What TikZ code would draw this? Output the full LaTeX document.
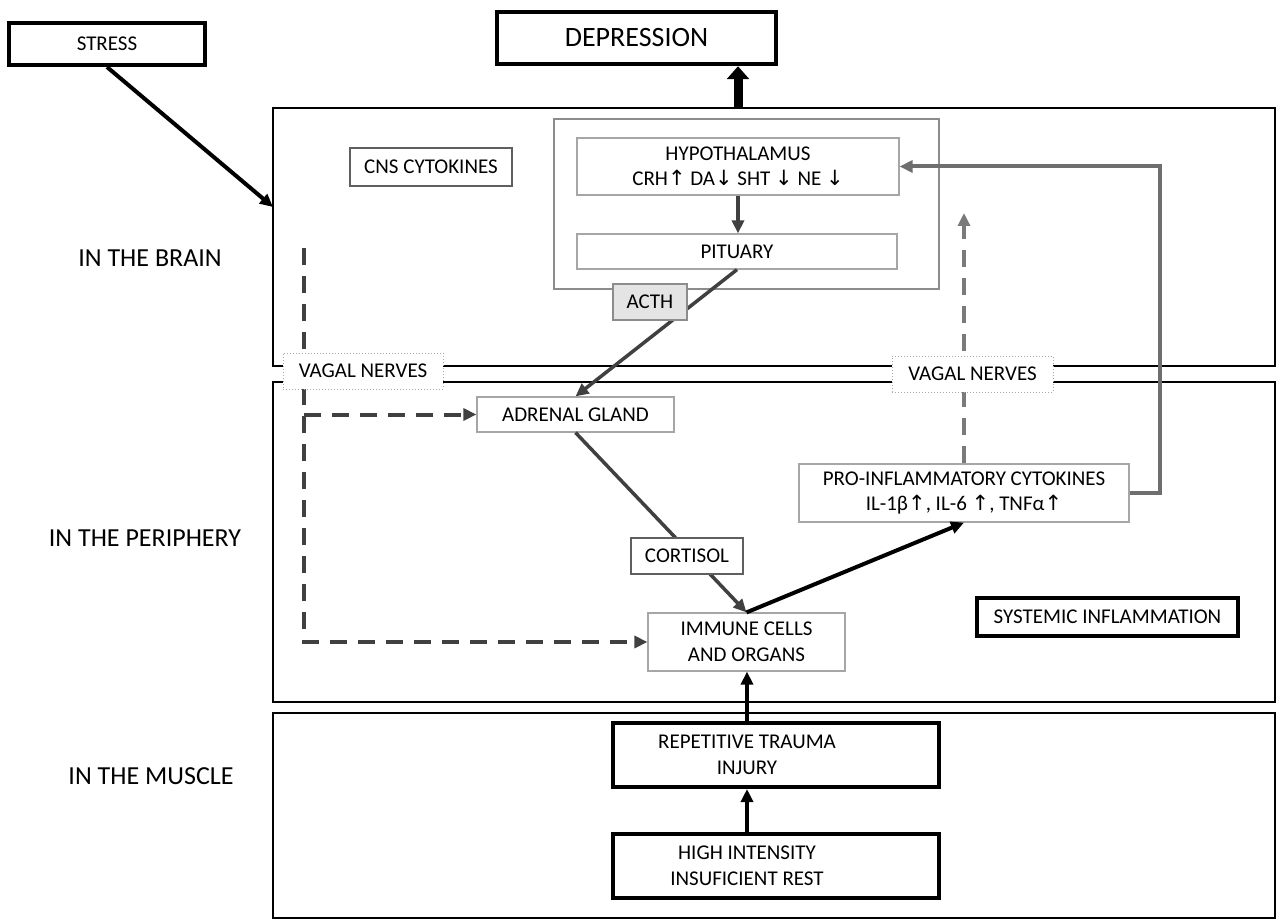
\documentclass[tikz,border=0pt]{standalone}
\usepackage{fontspec}
\setmainfont{Carlito}
\newfontfamily\arrowfont{DejaVu Sans}
\usetikzlibrary{arrows.meta}

\definecolor{darkline}{HTML}{404040}
\definecolor{midline}{HTML}{6E6E6E}
\definecolor{dashgrey}{HTML}{7A7A7A}
\definecolor{lightedge}{HTML}{A6A6A6}
\definecolor{darkedge}{HTML}{5F5F5F}
\definecolor{groupgrey}{HTML}{8C8C8C}
\definecolor{acthfill}{HTML}{E4E4E4}

\newcommand{\upar}{{\arrowfont ↑}}
\newcommand{\dnar}{{\arrowfont ↓}}

\tikzset{
  region/.style={draw, line width=2pt, minimum width=1002pt, inner sep=0pt},
  sidelabel/.style={font=\fontsize{26}{30}\selectfont},
  thinbox/.style={draw=lightedge, line width=1.2pt, fill=white, inner sep=0pt, align=center},
  darkbox/.style={draw=darkedge, line width=1.2pt, fill=white, inner sep=0pt, align=center},
  thickbox/.style={draw, line width=4pt, fill=white, inner sep=0pt, align=center},
  vagusbox/.style={draw=lightedge, dotted, line width=1pt, fill=white, inner sep=0pt,
    minimum width=160pt, minimum height=36pt},
  blackarrow/.style={-{Triangle[length=13pt,width=12pt]}, line width=3.5pt},
  greyarrow/.style={-{Triangle[length=13pt,width=12pt]}, line width=3.5pt, darkline},
  nervearrow/.style={-{Triangle[length=13pt,width=12pt]}, line width=4pt, dash pattern=on 17pt off 11pt}
}

\begin{document}
\begin{tikzpicture}[x=1pt, y=-1pt, font=\fontsize{21}{25.5}\selectfont]
\useasboundingbox (0,0) rectangle (1277,920);

\node[region, minimum height=258pt] (brain) at (774,237) {};
\node[region, minimum height=320pt] (periphery) at (774,542) {};
\node[region, minimum height=205pt] (muscle) at (774,815.5) {};

\node[sidelabel] (brainlbl) at (150,258) {IN THE BRAIN};
\node[sidelabel] (periphlbl) at (145,538) {IN THE PERIPHERY};
\node[sidelabel] (musclelbl) at (151,776) {IN THE MUSCLE};

\node[thickbox, minimum width=196pt, minimum height=42pt] (stress) at (107,44) {STRESS};
\node[thickbox, line width=4.5pt, minimum width=279pt, minimum height=52pt,
  font=\fontsize{28}{32}\selectfont] (depression) at (636.5,38) {DEPRESSION};

\node[darkbox, minimum width=162pt, minimum height=38pt] (cns) at (431,167) {CNS CYTOKINES};

\node[draw=groupgrey, line width=2.5pt, minimum width=385pt, minimum height=170pt] (hpa) at (746.5,204) {};
\node[thinbox, minimum width=322pt, minimum height=57pt] (hyp) at (738,166.5)
  {HYPOTHALAMUS\\CRH\upar{} DA\dnar{} SHT \dnar{} NE \dnar};
\node[thinbox, minimum width=320pt, minimum height=35pt] (pit) at (737,251.5) {PITUARY};

\node[thinbox, minimum width=197pt, minimum height=35pt] (adrenal) at (575.5,414.5) {ADRENAL GLAND};
\node[thinbox, minimum width=330pt, minimum height=58pt] (proinf) at (964,493)
  {PRO-INFLAMMATORY CYTOKINES\\IL-1β\upar, IL-6 \upar, TNFα\upar};
\node[thinbox, minimum width=197pt, minimum height=58pt] (immune) at (746.5,642) {IMMUNE CELLS\\AND ORGANS};
\node[thickbox, minimum width=261pt, minimum height=38pt] (systemic) at (1107.5,617) {SYSTEMIC INFLAMMATION};

\node[thickbox, minimum width=326pt, minimum height=64pt] (traumabox) at (776,755) {};
\node[align=center] (trauma) at (747,755) {REPETITIVE TRAUMA\\INJURY};
\node[thickbox, minimum width=326pt, minimum height=64pt] (highbox) at (776,866) {};
\node[align=center] (high) at (747,866) {HIGH INTENSITY\\INSUFICIENT REST};

\coordinate (stressin) at (273,207);
\coordinate (vagtop) at (304,248);
\coordinate (vagusup) at (964,213);

\draw[-{Triangle[length=13pt,width=12pt]}, line width=4pt] (stress.south) -- (stressin);
\draw[-{Triangle[length=13pt,width=22pt]}, line width=9pt] (hyp.north |- brain.north) -- (hyp.north |- depression.south);
\draw[greyarrow] (hyp.south) -- (hyp.south |- pit.north);
\draw[greyarrow] (pit.south) -- (adrenal.north);
\draw[greyarrow] (adrenal.south) -- (immune.north);
\draw[blackarrow, line width=4pt] (immune.north) -- (proinf.south);
\draw[greyarrow, midline, line width=4pt] (proinf.east) -- ++(30,0) |- (hyp.east);
\draw[nervearrow, dashgrey] (proinf.north) -- (vagusup);
\draw[nervearrow, darkline] (vagtop) |- (immune.west);
\draw[nervearrow, darkline] (vagtop |- adrenal.west) -- (adrenal.west);
\draw[blackarrow] (trauma |- traumabox.north) -- (trauma |- immune.south);
\draw[blackarrow] (high |- highbox.north) -- (high |- traumabox.south);

\node[draw=groupgrey, line width=1.2pt, fill=acthfill, inner sep=0pt, minimum width=74pt,
  minimum height=36pt] (acth) at (650,302) {ACTH};
\node[darkbox, minimum width=112pt, minimum height=36pt] (cortisol) at (687,556) {CORTISOL};
\node[vagusbox] (vagusleft) at (363,371) {VAGAL NERVES};
\node[vagusbox, minimum width=161pt] (vagusright) at (972.5,374) {VAGAL NERVES};
\end{tikzpicture}
\end{document}
